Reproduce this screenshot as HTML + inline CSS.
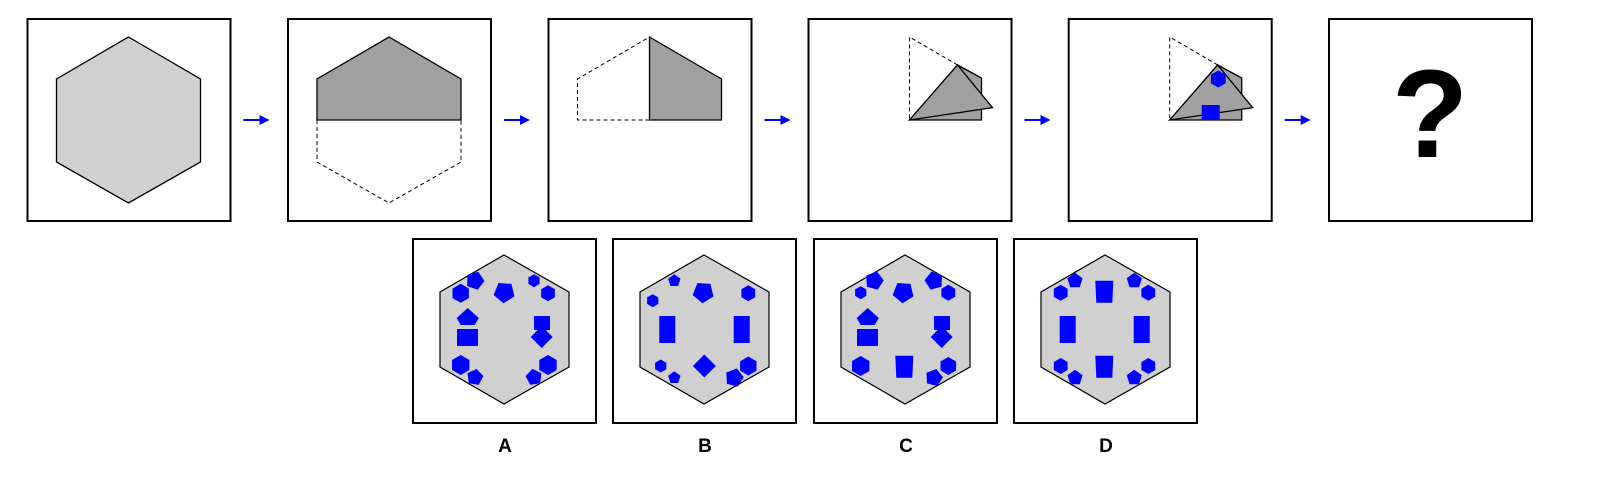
<!DOCTYPE html>
<html><head><meta charset="utf-8"><style>
html,body{margin:0;padding:0;background:#fff;width:1610px;height:490px;overflow:hidden}
svg{display:block}
</style></head><body>
<svg id="s" width="1610" height="490" viewBox="0 0 1610 490" xmlns="http://www.w3.org/2000/svg">
<g id="topg"></g><g id="optsg"></g>
<text x="1430" y="157" text-anchor="middle" font-family="Liberation Sans, sans-serif" font-weight="bold" font-size="125" fill="#000">?</text>
<text x="505" y="452" text-anchor="middle" font-family="Liberation Sans, sans-serif" font-weight="bold" font-size="19">A</text>
<text x="705" y="452" text-anchor="middle" font-family="Liberation Sans, sans-serif" font-weight="bold" font-size="19">B</text>
<text x="906" y="452" text-anchor="middle" font-family="Liberation Sans, sans-serif" font-weight="bold" font-size="19">C</text>
<text x="1106" y="452" text-anchor="middle" font-family="Liberation Sans, sans-serif" font-weight="bold" font-size="19">D</text>
</svg>
<script>
const NS='http://www.w3.org/2000/svg';
function el(parent,tag,attrs){const e=document.createElementNS(NS,tag);for(const k in attrs)e.setAttribute(k,attrs[k]);parent.appendChild(e);return e;}
function pts(a){return a.map(p=>p[0].toFixed(1)+','+p[1].toFixed(1)).join(' ');}
function off(a,x,y){return a.map(p=>[p[0]+x,p[1]+y]);}
function reg(n,cx,cy,r,rot){const a=[];for(let i=0;i<n;i++){const t=(rot+i*360/n)*Math.PI/180;a.push([cx+r*Math.sin(t),cy-r*Math.cos(t)]);}return a;}
const topG=document.getElementById('topg');
const optsG=document.getElementById('optsg');
const boxX=[27.5,288,548.5,808.5,1068.7,1329];
const hex=[[101,18],[173,60],[173,143],[101,184],[29,143],[29,60]];
for(let i=0;i<6;i++){
  const b=el(topG,'rect',{x:boxX[i],y:19,width:203,height:202,fill:'#fff',stroke:'#000','stroke-width':2});
  
  
  if(i<5){
    const ax=boxX[i]+203+13;
    const l=el(topG,'line',{x1:ax,y1:120,x2:ax+18,y2:120,stroke:'#00f','stroke-width':2});
    
    
    const h=el(topG,'polygon',{points:pts([[ax+16,115],[ax+26,120],[ax+16,125]]),fill:'#00f'});
    
    
  }
}
const Y=19;
let p=el(topG,'polygon',{points:pts(off(hex,boxX[0],Y)),fill:'#d0d0d0',stroke:'#000','stroke-width':1.3});


p=el(topG,'polygon',{points:pts(off([[29,101],[29,60],[101,18],[173,60],[173,101]],boxX[1],Y)),fill:'#a0a0a0',stroke:'#000','stroke-width':1.3});


p=el(topG,'polyline',{points:pts(off([[29,101],[29,143],[101,184],[173,143],[173,101]],boxX[1],Y)),fill:'none',stroke:'#000','stroke-width':1,'stroke-dasharray':'4,3'});


p=el(topG,'polyline',{points:pts(off([[101,101],[29,101],[29,60],[101,18]],boxX[2],Y)),fill:'none',stroke:'#000','stroke-width':1,'stroke-dasharray':'4,3'});


p=el(topG,'polygon',{points:pts(off([[101,18],[173,60],[173,101],[101,101]],boxX[2],Y)),fill:'#a0a0a0',stroke:'#000','stroke-width':1.3});


for(const k of [3,4]){
  const bx=boxX[k];
  p=el(topG,'polyline',{points:pts(off([[149,46],[101,18],[101,101]],bx,Y)),fill:'none',stroke:'#000','stroke-width':1,'stroke-dasharray':'4,3'});
  
  
  p=el(topG,'polygon',{points:pts(off([[149,46],[173,59],[173,101],[101,101]],bx,Y)),fill:'#a0a0a0',stroke:'#000','stroke-width':1.3});
  
  
  p=el(topG,'polygon',{points:pts(off([[101,101],[149,46],[184,88.7]],bx,Y)),fill:'#a0a0a0',stroke:'#000','stroke-width':1.3});
  
  
  if(k===4){
    p=el(topG,'polygon',{points:pts(off(reg(6,149.6,60,8.5,0),bx,Y)),fill:'#00f'});
    
    
    p=el(topG,'rect',{x:bx+133,y:Y+86,width:18,height:15,fill:'#00f'});
    
    
  }
}
const optX=[413,613,814,1014];
const optNames=['a','b','c','d'];
const ohex=[[91,16],[156,53],[156,128],[91,165],[27,128],[27,53]];
function house(cx,cy,dir){const s=dir;return [[cx,cy-11*s],[cx+11,cy-1*s],[cx+7,cy+6*s],[cx-7,cy+6*s],[cx-11,cy-1*s]];}
function trap(cx,cy,up){const t=up?9:8,b=up?8:9;return [[cx-t,cy-11],[cx+t,cy-11],[cx+b,cy+11],[cx-b,cy+11]];}
const shapes={
 a:[['hex',47.7,54.3,9.5,0],['pent',62,41.7,9.5,20],['pent',91.3,53.3,11,40],['hex',121,41.7,6.5,0],['hex',135,54.3,8,0],
    ['house',54.7,80,1],['rect',44,90,21,17],['rect',121,77,16,14],['diam',128.7,98,11],
    ['hex',47.7,126,10,0],['pent',62,138.3,8.5,10],['pent',121,138.3,8.5,-10],['hex',135,126,10,0]],
 b:[['pent',61.3,41.7,6.5,0],['hex',39.7,61.7,6.5,0],['pent',90.3,53.3,11,40],['hex',135.3,54.3,8,0],
    ['rect',46.3,77,16,27],['rect',120.7,77,16,27],
    ['hex',47.7,127,6.5,0],['pent',61.3,138.7,6.5,0],['diam',91.3,127,11.5],['hex',135.3,127,9.5,0],['pent',121.3,138.7,9.5,15]],
 c:[['pent',60.3,41.7,9.5,15],['hex',46.7,53.7,6.5,0],['pent',89.3,53.3,11,40],['pent',120,41.7,9.5,-15],['hex',134.3,53.7,8,0],
    ['house',53.7,80,1],['rect',43,90,21,17],['rect',120,77,16,14],['diam',127.7,98,11],
    ['hex',46.7,127,10,0],['trapU',90.3,127.7],['hex',134.3,127,9,0],['pent',120,138.7,9,15]],
 d:[['hex',46.7,53.7,8,0],['pent',61,41.7,8,0],['trapU',90.3,52.7],['pent',120.3,41.7,8,0],['hex',134.3,53.7,8,0],
    ['rect',45.7,77,16,27],['rect',119.7,77,16,27],
    ['hex',46.7,127,8,0],['pent',61,138.7,8,0],['trapU',90.3,127.7],['hex',134.3,127,8,0],['pent',120.3,138.7,8,0]]
};
for(let i=0;i<4;i++){
  const bx=optX[i],by=239,n=optNames[i];
  const r=el(optsG,'rect',{x:bx,y:by,width:183,height:184,fill:'#fff',stroke:'#000','stroke-width':2});
  
  
  const h=el(optsG,'polygon',{points:pts(off(ohex,bx,by)),fill:'#d0d0d0',stroke:'#000','stroke-width':1.2});
  
  
  for(const s of shapes[n]){
    let e;
    if(s[0]==='hex') e=el(optsG,'polygon',{points:pts(off(reg(6,s[1],s[2],s[3],s[4]),bx,by)),fill:'#00f'});
    else if(s[0]==='pent') e=el(optsG,'polygon',{points:pts(off(reg(5,s[1],s[2],s[3],s[4]),bx,by)),fill:'#00f'});
    else if(s[0]==='house') e=el(optsG,'polygon',{points:pts(off(house(s[1],s[2],s[3]),bx,by)),fill:'#00f'});
    else if(s[0]==='rect') e=el(optsG,'rect',{x:bx+s[1],y:by+s[2],width:s[3],height:s[4],fill:'#00f'});
    else if(s[0]==='diam') e=el(optsG,'polygon',{points:pts(off(reg(4,s[1],s[2],s[3],0),bx,by)),fill:'#00f'});
    else if(s[0]==='trapU') e=el(optsG,'polygon',{points:pts(off(trap(s[1],s[2],true),bx,by)),fill:'#00f'});
    
    
  }
}
</script>
</body></html>
